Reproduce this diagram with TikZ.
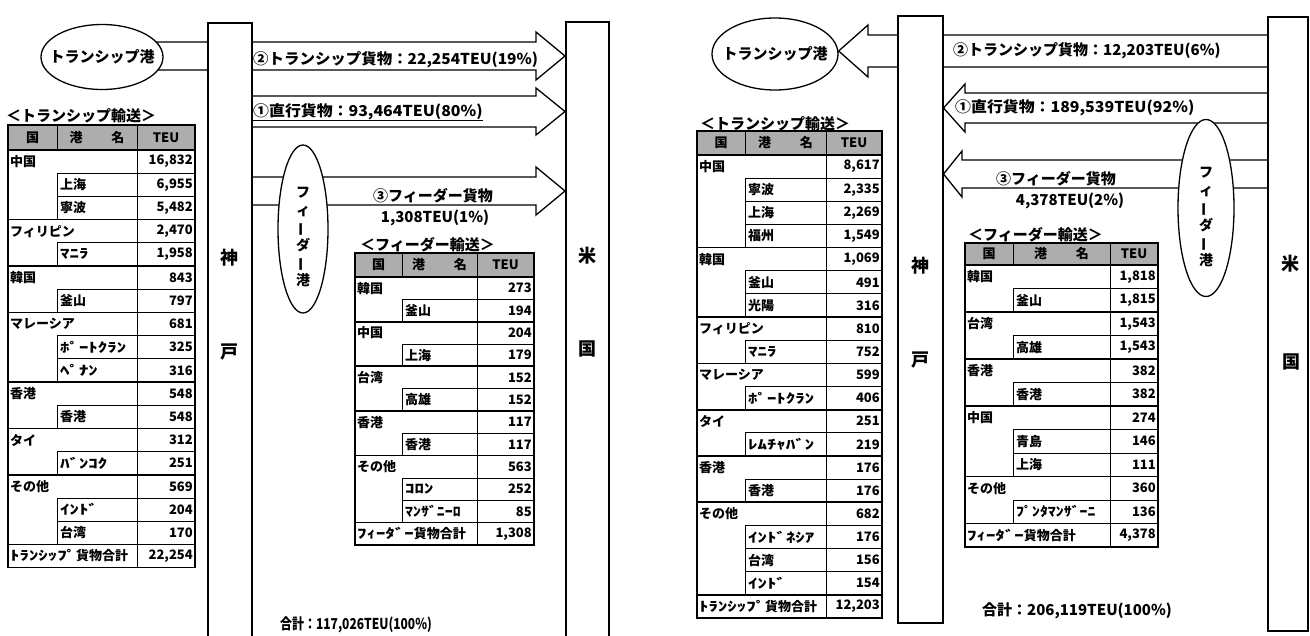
\documentclass[tikz,border=0pt]{standalone}
\usepackage{fontspec}
\setmainfont{Noto Sans CJK JP}
\usepackage{graphicx}
\usetikzlibrary{shapes.geometric}
\pgfdeclarelayer{bg}
\pgfsetlayers{bg,main}

\newcommand{\hw}[1]{\scalebox{1.45}[1]{#1}}
\newcommand{\hwn}[1]{\scalebox{1.22}[1]{#1}}
\newcommand{\vbar}{\rotatebox[origin=c]{90}{ー}}

\tikzset{
  bar/.style={draw, line width=1.5pt, fill=white, rectangle, inner sep=0},
  portell/.style={draw, line width=1.3pt, ellipse, fill=white, inner sep=0},
  ptxt/.style={font=\fontsize{15}{18}\selectfont\bfseries, inner sep=0},
  vtxt/.style={font=\fontsize{14}{17.5}\selectfont\bfseries, inner sep=0, align=center},
  band/.style={draw, line width=1.3pt, fill=white},
  lbl/.style={font=\fontsize{15}{17}\selectfont\bfseries, inner sep=0},
  big/.style={font=\fontsize{18}{20}\selectfont\bfseries, inner sep=0},
  cell/.style={font=\fontsize{13}{14}\selectfont\bfseries, inner sep=0},
  ttl/.style={font=\fontsize{15}{16}\selectfont\bfseries, inner sep=0, anchor=south west},
  tline/.style={line width=0.9pt},
  gline/.style={line width=1.7pt},
  oline/.style={line width=1.7pt},
  hdr/.style={fill=black!32},
}

% #1 prefix, #2 x0, #3 x1, #4 x2, #5 x3, #6 top, #7 header h, #8 row h, #9 rows
\newcommand{\jtable}[9]{%
  \fill[hdr] ({#2},{#6}) rectangle ({#5},{#6+#7});
  \draw[tline] ({#3},{#6}) -- ({#3},{#6+#7});
  \node[cell] (#1-h1) at ({(#2+#3)/2},{#6+#7/2}) {国};
  \node[cell] (#1-h2) at ({(#3+#4)/2},{#6+#7/2}) {港\hspace{2.2em}名};
  \node[cell] (#1-h3) at ({(#4+#5)/2},{#6+#7/2}) {TEU};
  \draw[gline] ({#2},{#6+#7}) -- ({#5},{#6+#7});
  \foreach \k/\n/\v [count=\i] in {#9} {%
    \pgfmathsetmacro\yt{#6+#7+(\i-1)*#8}%
    \pgfmathsetmacro\yb{\yt+#8}%
    \pgfmathsetmacro\ym{\yt+#8/2}%
    \if p\k
      \draw[tline] ({#3},\yt) -- ({#5},\yt) ({#3},\yt) -- ({#3},\yb);
      \node[cell,anchor=west] (#1-n\i) at ({#3+3},\ym) {\n};
    \else
      \draw[gline] ({#2},\yt) -- ({#5},\yt);
      \node[cell,anchor=west] (#1-n\i) at ({#2+2},\ym) {\n};
    \fi
    \node[cell,anchor=east] (#1-v\i) at ({#5-2},\ym) {\v};
    \if t\k
      \draw[tline] ({#4},{#6}) -- ({#4},\yb);
      \draw[oline] ({#2},{#6}) rectangle ({#5},\yb);
    \fi
  }%
}

\begin{document}
\begin{tikzpicture}[x=1pt,y=-1pt]
\useasboundingbox (0,0) rectangle (1310,635);

% ---------------- LEFT PANEL ----------------
\node[bar, minimum width=44, minimum height=640, anchor=north west] (kobeL) at (207,22) {};
\node[bar, minimum width=43, minimum height=640, anchor=north west] (usL) at (565,21) {};
\node[portell, minimum width=122, minimum height=65] (tsL) at (102,57) {};
\node[portell, minimum width=50, minimum height=168] (fdL) at (303,229) {};

\begin{pgfonlayer}{bg}
\draw[band] (tsL.center |- 0,42) -- (536,42) -- (536,32) -- (usL.west |- 0,56) -- (536,80) -- (536,70) -- (tsL.center |- 0,70) -- cycle;
\draw[band] (kobeL.center |- 0,96) -- (536,96) -- (536,88) -- (usL.west |- 0,111.5) -- (536,135) -- (536,127) -- (kobeL.center |- 0,127) -- cycle;
\draw[band] (kobeL.center |- 0,177) -- (536,177) -- (536,167) -- (usL.west |- 0,191) -- (536,215) -- (536,205) -- (kobeL.center |- 0,205) -- cycle;
\end{pgfonlayer}

\node[ptxt] (tsLt) at (tsL.center) {トランシップ港};
\node[vtxt] (fdLt) at (303,237) {フ\\ィ\\\vbar\\ダ\\\vbar\\港};

\node[big] (kobeL1) at (229,258) {神};
\node[big] (kobeL2) at (229,352) {戸};
\node[big] (usL1) at (587,256) {米};
\node[big] (usL2) at (587,349) {国};

\node[lbl, anchor=south west] (l2) at (253,68) {\scalebox{1.03}[1]{②トランシップ貨物：22,254TEU(19\%)}};
\node[lbl, anchor=south west] (l1) at (253,120) {\scalebox{1.06}[1]{①直行貨物：93,464TEU(80\%)}};
\draw[line width=0.9pt] (l1.south west) -- (l1.south east);
\node[lbl, anchor=south] (l3) at (433,203) {③フィーダー貨物};
\node[lbl] (l3b) at (435,218) {1,308TEU(1\%)};
\node[lbl] (totL) at (356,625) {\scalebox{0.8}[1]{合計：117,026TEU(100\%)}};

\node[ttl] (tLttl) at (6,123) {＜トランシップ輸送＞};
\jtable{tL}{8}{57}{137}{195}{125}{25}{23.2}{
  c/中国/{16,832}, p/上海/{6,955}, p/寧波/{5,482},
  c/フィリピン/{2,470}, p/\hw{ﾏﾆﾗ}/{1,958},
  c/韓国/843, p/釜山/797,
  c/マレーシア/681, p/\hw{ﾎﾟｰﾄｸﾗﾝ}/325, p/\hw{ﾍﾟﾅﾝ}/316,
  c/香港/548, p/香港/548,
  c/タイ/312, p/\hw{ﾊﾞﾝｺｸ}/251,
  c/その他/569, p/\hw{ｲﾝﾄﾞ}/204, p/台湾/170,
  t/\hw{ﾄﾗﾝｼｯﾌﾟ}貨物合計/{22,254}}

\node[ttl] (fLttl) at (360,252) {＜フィーダー輸送＞};
\jtable{fL}{355}{402}{477}{534}{253}{24}{22.33}{
  c/韓国/273, p/釜山/194,
  c/中国/204, p/上海/179,
  c/台湾/152, p/高雄/152,
  c/香港/117, p/香港/117,
  c/その他/563, p/\hw{ｺﾛﾝ}/252, p/\hwn{ﾏﾝｻﾞﾆｰﾛ}/85,
  t/\hw{ﾌｨｰﾀﾞｰ}貨物合計/{1,308}}

% ---------------- RIGHT PANEL ----------------
\node[bar, minimum width=45, minimum height=607, anchor=north west] (kobeR) at (897,15) {};
\node[bar, minimum width=40, minimum height=614, anchor=north west] (usR) at (1267,16) {};
\node[portell, minimum width=126, minimum height=72] (tsR) at (775,54) {};
\node[portell, minimum width=56, minimum height=177] (fdR) at (1206,208) {};

\begin{pgfonlayer}{bg}
\draw[band] (usR.center |- 0,35) -- (868,35) -- (868,25) -- (tsR.east |- 0,51) -- (868,77) -- (868,67) -- (usR.center |- 0,67) -- cycle;
\draw[band] (usR.center |- 0,93) -- (965,93) -- (965,84) -- (kobeR.east |- 0,108) -- (965,132) -- (965,123) -- (usR.center |- 0,123) -- cycle;
\draw[band] (usR.center |- 0,160) -- (962,160) -- (962,151) -- (kobeR.east |- 0,174) -- (962,197) -- (962,188) -- (usR.center |- 0,188) -- cycle;
\end{pgfonlayer}

\node[ptxt] (tsRt) at (tsR.center) {トランシップ港};
\node[vtxt] (fdRt) at (1206,217) {フ\\ィ\\\vbar\\ダ\\\vbar\\港};

\node[big] (kobeR1) at (920,266) {神};
\node[big] (kobeR2) at (920,360) {戸};
\node[big] (usR1) at (1290,264) {米};
\node[big] (usR2) at (1291,362) {国};

\node[lbl, anchor=west] (r2) at (953,51) {②トランシップ貨物：12,203TEU(6\%)};
\node[lbl, anchor=west] (r1) at (955,108) {\scalebox{1.06}[1]{①直行貨物：189,539TEU(92\%)}};
\node[lbl, anchor=south] (r3) at (1056,186) {③フィーダー貨物};
\node[lbl] (r3b) at (1070,201) {4,378TEU(2\%)};
\node[lbl] (totR) at (1077,611) {合計：206,119TEU(100\%)};

\node[ttl] (tRttl) at (700,131) {＜トランシップ輸送＞};
\jtable{tR}{697}{745}{826}{882}{131}{24}{23.15}{
  c/中国/{8,617}, p/寧波/{2,335}, p/上海/{2,269}, p/福州/{1,549},
  c/韓国/{1,069}, p/釜山/491, p/光陽/316,
  c/フィリピン/810, p/\hw{ﾏﾆﾗ}/752,
  c/マレーシア/599, p/\hw{ﾎﾟｰﾄｸﾗﾝ}/406,
  c/タイ/251, p/\hw{ﾚﾑﾁｬﾊﾞﾝ}/219,
  c/香港/176, p/香港/176,
  c/その他/682, p/\hw{ｲﾝﾄﾞﾈｼｱ}/176, p/台湾/156, p/\hw{ｲﾝﾄﾞ}/154,
  t/\hw{ﾄﾗﾝｼｯﾌﾟ}貨物合計/{12,203}}

\node[ttl] (fRttl) at (968,242) {＜フィーダー輸送＞};
\jtable{fR}{965}{1013}{1110}{1158}{243}{22}{23.5}{
  c/韓国/{1,818}, p/釜山/{1,815},
  c/台湾/{1,543}, p/高雄/{1,543},
  c/香港/382, p/香港/382,
  c/中国/274, p/青島/146, p/上海/111,
  c/その他/360, p/\hwn{ﾌﾟﾝﾀﾏﾝｻﾞｰﾆ}/136,
  t/\hw{ﾌｨｰﾀﾞｰ}貨物合計/{4,378}}
\end{tikzpicture}
\end{document}
